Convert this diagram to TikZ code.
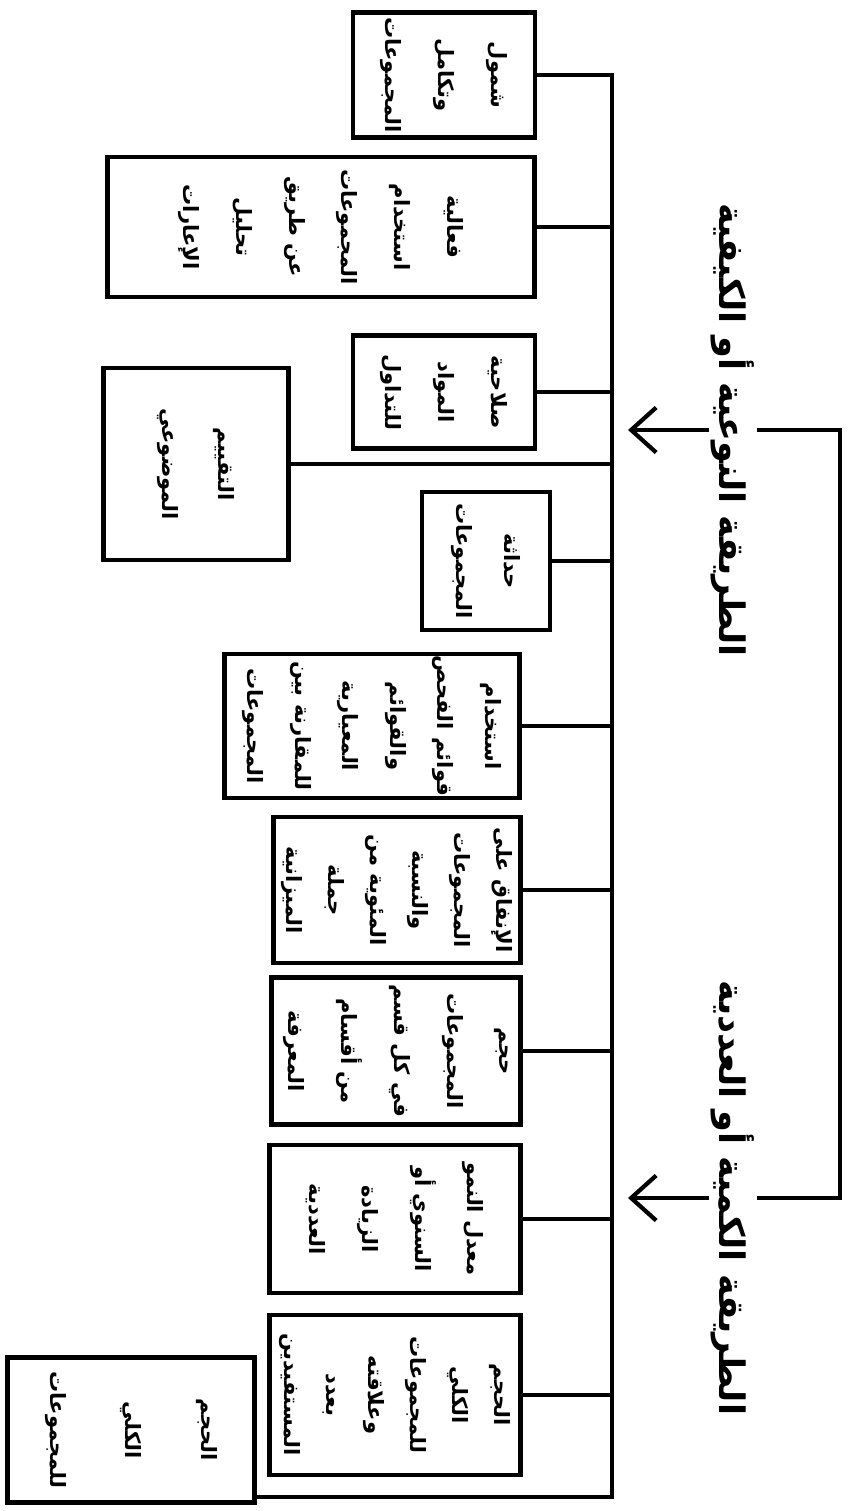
\documentclass[tikz,border=0pt]{standalone}
\usepackage{fontspec}
\newfontfamily\arfont[Script=Arabic]{DejaVu Sans}
\TeXXeTstate=1
\usetikzlibrary{arrows.meta, positioning}
\newcommand{\rl}[1]{\beginR #1\endR}

\begin{document}
\begin{tikzpicture}[
    x=0.02cm, y=-0.02cm,
    every node/.style={rotate=-90, align=center, inner sep=1pt},
    boxsize/.style 2 args={minimum width=#1*0.02cm, minimum height=#2*0.02cm},
    crit/.style={draw, line width=2.4pt, font=\arfont\bfseries\fontsize{12}{24}\selectfont},
    wide/.style={font=\arfont\bfseries\fontsize{12}{30}\selectfont},
    method/.style={font=\arfont\bfseries\fontsize{20}{24}\selectfont},
    link/.style={draw, line width=2.4pt},
    feed/.style={link, -{Straight Barb[length=5mm, width=9mm]}},
]
\fill[white] (0,0) rectangle (851,1511);
\useasboundingbox (0,0) rectangle (851,1511);

% qualitative criteria
\node[crit, wide, boxsize={125}{182}] (cover) at (444,75) {\rl{شمول}\\\rl{وتكامل}\\\rl{المجموعات}};
\node[crit, wide, boxsize={140}{427}] (usage) at (321,227) {\rl{فعالية}\\\rl{استخدام}\\\rl{المجموعات}\\\rl{عن طريق}\\\rl{تحليل}\\\rl{الإعارات}};
\node[crit, wide, boxsize={113}{182}] (fitness) at (444,392) {\rl{صلاحية}\\\rl{المواد}\\\rl{للتداول}};
\node[crit, font=\arfont\bfseries\fontsize{12}{32}\selectfont, boxsize={192}{185}] (review) at (196,464) {\rl{التقييم}\\\rl{الموضوعي}};
\node[crit, font=\arfont\bfseries\fontsize{12}{27}\selectfont, boxsize={138}{128}] (recency) at (486,561) {\rl{حداثة}\\\rl{المجموعات}};
\node[crit, font=\arfont\bfseries\fontsize{12}{27}\selectfont, boxsize={137}{295}] (checklist) at (372,726) {\rl{استخدام}\\\rl{قوائم الفحص}\\\rl{والقوائم}\\\rl{المعيارية}\\\rl{للمقارنة بين}\\\rl{المجموعات}};

% quantitative criteria
\node[crit, boxsize={146}{247}] (budget) at (397,890) {\rl{الإنفاق على}\\\rl{المجموعات}\\\rl{والنسبة}\\\rl{المئوية من}\\\rl{جملة}\\\rl{الميزانية}};
\node[crit, wide, boxsize={147}{249}] (size) at (396,1051) {\rl{حجم}\\\rl{المجموعات}\\\rl{في كل قسم}\\\rl{من أقسام}\\\rl{المعرفة}};
\node[crit, wide, boxsize={148}{251}] (growth) at (395,1219) {\rl{معدل النمو}\\\rl{السنوي أو}\\\rl{الزيادة}\\\rl{العددية}};
\node[crit, boxsize={160}{251}] (users) at (395,1395) {\rl{الحجم}\\\rl{الكلي}\\\rl{للمجموعات}\\\rl{وعلاقته}\\\rl{بعدد}\\\rl{المستفيدين}};
\node[crit, font=\arfont\bfseries\fontsize{12}{43}\selectfont, boxsize={145}{247}] (total) at (131,1430) {\rl{الحجم}\\\rl{الكلي}\\\rl{للمجموعات}};

% methods
\node[method] (qual) at (733,430) {\rl{الطريقة النوعية أو الكيفية}};
\node[method] (quant) at (733,1198) {\rl{الطريقة الكمية أو العددية}};

\coordinate (busBot) at (612,1497);
\coordinate (tip) at (628,0);
\coordinate (brk) at (840,0);

\draw[link] (cover.north) -| (busBot) -- (busBot -| total.north);
\foreach \b in {usage,fitness,review,recency,checklist,budget,size,growth,users}
    \draw[link] (\b.north) -- (\b.north -| busBot);

\draw[feed] (qual.south) -- (qual.south -| tip);
\draw[feed] (quant.south) -- (quant.south -| tip);
\draw[link] (qual.north) -- (qual.north -| brk) -- (quant.north -| brk) -- (quant.north);

\end{tikzpicture}
\end{document}
